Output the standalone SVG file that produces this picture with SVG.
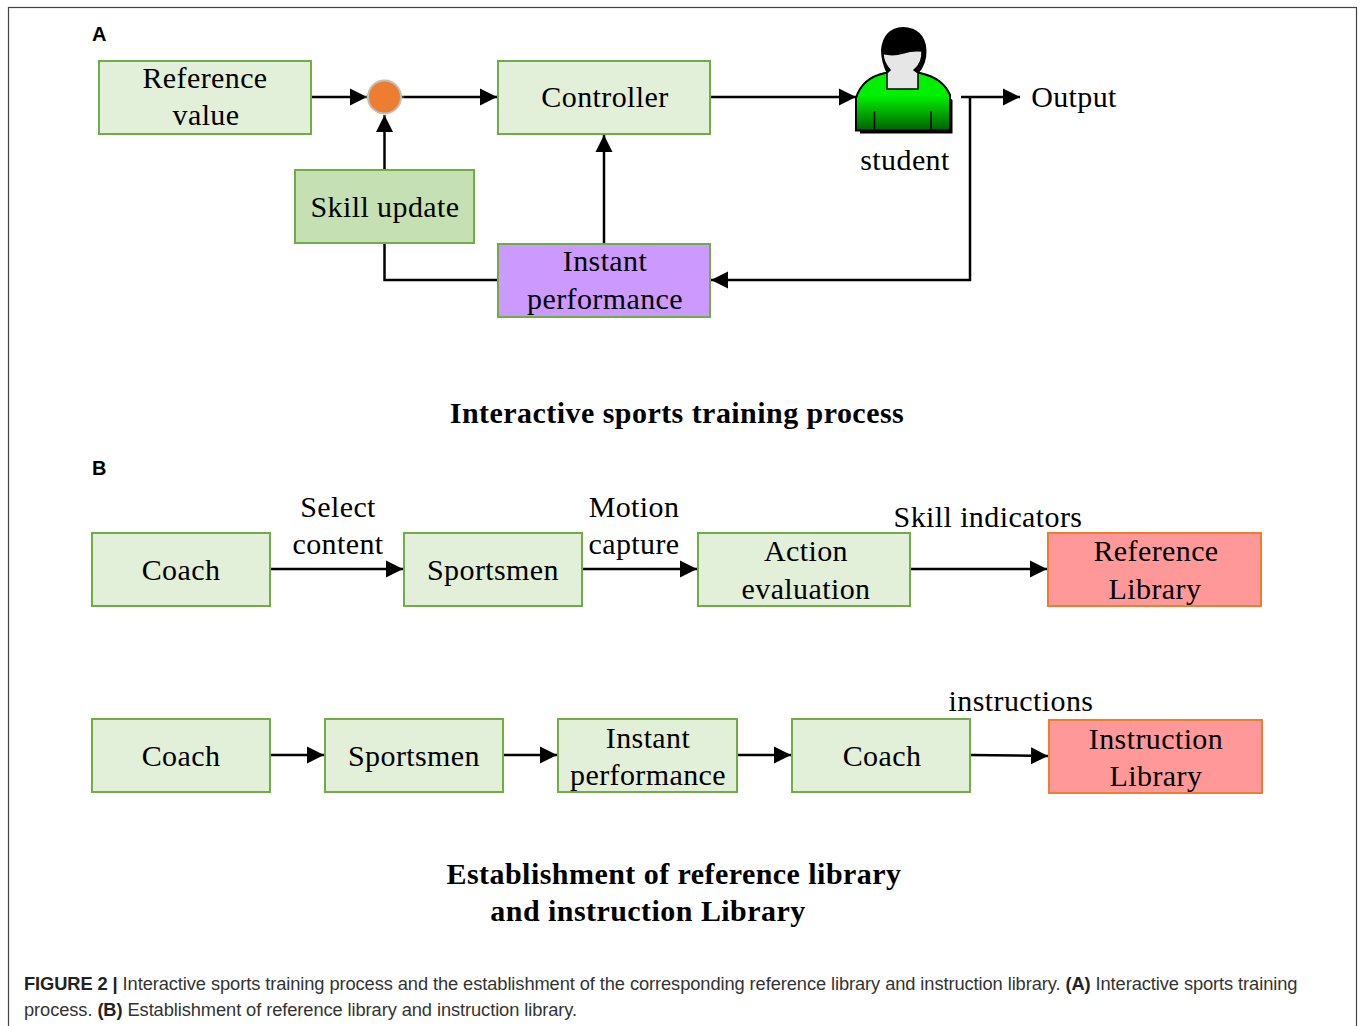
<svg xmlns="http://www.w3.org/2000/svg" width="1362" height="1026" viewBox="0 0 1362 1026">
<defs>
<marker id="arr" markerUnits="userSpaceOnUse" markerWidth="18" markerHeight="18" refX="17" refY="9" orient="auto"><path d="M0 0.500L17 9L0 17.500Z" fill="#000"/></marker>
<linearGradient id="gr" x1="0" y1="0" x2="0" y2="1"><stop offset="0.400" stop-color="#00f000"/><stop offset="1" stop-color="#006000"/></linearGradient>
<radialGradient id="glow"><stop offset="0.700" stop-color="#ffeb80" stop-opacity="0.600"/><stop offset="1" stop-color="#fff" stop-opacity="0"/></radialGradient>
</defs>
<style>
.b{stroke-width:2}
.g{fill:#e2efd9;stroke:#70ad47}
.g2{fill:#c5e0b3;stroke:#70ad47}
.p{fill:#cc99ff;stroke:#70ad47}
.r{fill:#ff9999;stroke:#ed7d31}
text{font-family:"Liberation Serif","Times New Roman",serif;font-size:30px;fill:#000;text-anchor:middle;letter-spacing:.4px}
.t{font-weight:bold;letter-spacing:.45px}
.s{font-family:"Liberation Sans",Arial,sans-serif;text-anchor:start;letter-spacing:0}
.l{font-size:20px;font-weight:bold}
.c{font-size:18.300px;fill:#333;letter-spacing:-.09px}
.c tspan.h{font-weight:bold;fill:#222}
#connectors path{fill:none;stroke:#000;stroke-width:2.500;marker-end:url(#arr)}
#connectors path.n{marker-end:none}
</style>
<rect x="8.500" y="7.500" width="1348" height="1030" fill="none" stroke="#444" stroke-width="1.200"/>
<text class="s l" x="92" y="41">A</text>
<text class="s l" x="92" y="475">B</text>
<g id="connectors">
<path d="M311 97H367"/>
<path d="M401 97H497"/>
<path d="M710 97H856"/>
<path d="M961 97H1020"/>
<path d="M970 97V280H711"/>
<path d="M604 243V135"/>
<path d="M384.500 170V115"/>
<path class="n" d="M498 280H384.500V244"/>
<path d="M270 569H403"/>
<path d="M582 569H697"/>
<path d="M910 569H1047"/>
<path d="M270 755H324"/>
<path d="M503 755H557"/>
<path d="M737 755H791"/>
<path d="M970 755L1048 756"/>
</g>
<g id="node-ref"><rect class="g b" x="99" y="61" width="212" height="73"/><text x="205" y="88">Reference</text><text x="206" y="125">value</text></g>
<g id="node-sum"><circle cx="384.500" cy="97" r="21" fill="url(#glow)"/><circle cx="384.500" cy="97" r="16.500" fill="#ed7d31" stroke="#bfbfbf" stroke-width="2"/></g>
<g id="node-controller"><rect class="g b" x="498" y="61" width="212" height="73"/><text x="605" y="107">Controller</text></g>
<g id="node-skill"><rect class="g2 b" x="295" y="170" width="179" height="73"/><text x="385" y="217">Skill update</text></g>
<g id="node-instant"><rect class="p b" x="498" y="244" width="212" height="73"/><text x="605" y="271">Instant</text><text x="605" y="309">performance</text></g>
<g id="node-student">
<path d="M860 133.500H952.500V100L925 76H880L860 100Z" fill="#000"/>
<path d="M856 130.500V98Q862 78 885 73H920Q943 78 950 95V130.500Z" fill="url(#gr)" stroke="#000" stroke-width="2"/>
<path d="M874.500 130V111M931 130V111" stroke="#000" stroke-width="1.500"/>
<path d="M887 74Q881 62 881 50Q883 28 903 27Q925 28 926.500 50Q927 64 918 74Z" fill="#000"/>
<path d="M883 53.500Q893 56 903 53Q912 50 922 51Q923 63 914 70L918 73V89H887V73L890 70Q883 62 883 53.500Z" fill="#e6e6e6" stroke="#000" stroke-width="1.500"/>
<text x="905" y="170">student</text></g>
<text x="1074" y="107">Output</text>
<text class="t" x="677" y="423">Interactive sports training process</text>
<g id="node-coach1"><rect class="g b" x="92" y="533" width="178" height="73"/><text x="181" y="580">Coach</text></g>
<g id="node-sports1"><rect class="g b" x="404" y="533" width="178" height="73"/><text x="493" y="580">Sportsmen</text></g>
<g id="node-action"><rect class="g b" x="698" y="533" width="212" height="73"/><text x="806" y="561">Action</text><text x="806" y="599">evaluation</text></g>
<g id="node-reflib"><rect class="r b" x="1048" y="533" width="213" height="73"/><text x="1156" y="561">Reference</text><text x="1155" y="599">Library</text></g>
<text x="338" y="517">Select</text><text x="338" y="554">content</text>
<text x="634" y="517">Motion</text><text x="634" y="554">capture</text>
<text x="988" y="527">Skill indicators</text>
<g id="node-coach2"><rect class="g b" x="92" y="719" width="178" height="73"/><text x="181" y="766">Coach</text></g>
<g id="node-sports2"><rect class="g b" x="325" y="719" width="178" height="73"/><text x="414" y="766">Sportsmen</text></g>
<g id="node-instant2"><rect class="g b" x="558" y="719" width="179" height="73"/><text x="648" y="748">Instant</text><text x="648" y="785">performance</text></g>
<g id="node-coach3"><rect class="g b" x="792" y="719" width="178" height="73"/><text x="882" y="766">Coach</text></g>
<g id="node-inslib"><rect class="r b" x="1049" y="720" width="213" height="73"/><text x="1156" y="749">Instruction</text><text x="1156" y="786">Library</text></g>
<text x="1021" y="711">instructions</text>
<text class="t" x="674" y="884">Establishment of reference library</text>
<text class="t" x="648" y="921">and instruction Library</text>
<text class="s c" x="24" y="990"><tspan class="h">FIGURE 2 |</tspan> Interactive sports training process and the establishment of the corresponding reference library and instruction library. <tspan class="h">(A)</tspan> Interactive sports training</text>
<text class="s c" x="24" y="1016">process. <tspan class="h">(B)</tspan> Establishment of reference library and instruction library.</text>
</svg>
